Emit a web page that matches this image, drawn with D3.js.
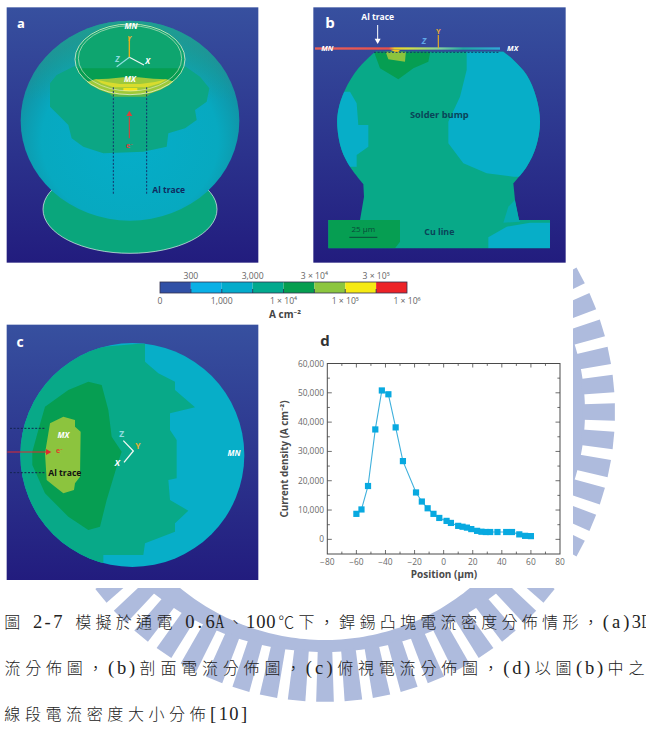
<!DOCTYPE html>
<html>
<head>
<meta charset="utf-8">
<script src="https://cdn.jsdelivr.net/npm/d3@7"></script>
<style>
html,body{margin:0;padding:0;background:#fff;overflow:hidden}
svg{display:block}
text{font-family:"Open Sans","Noto Sans",sans-serif}
</style>
</head>
<body>
<svg id="fig" width="646" height="729"></svg>
<script>
// Current density along the position line, panel d
const positions = [-60,-56.5,-52,-47,-42.5,-38,-33,-28,-19,-15,-11,-7,-3,2,5,10,13,16,19,23,26,29,32,37,43,47,52,56,60];
const densities = [8700,10200,18200,37500,50800,49500,38200,26700,16000,12900,10600,8700,7300,6300,5600,4600,4300,4000,3500,2900,2600,2500,2500,2500,2500,2500,1700,1200,1100];

// Colour key
const keyColors = ["#3050a6","#0ab0e6","#04abcb","#02a98e","#069e50","#8cc63f","#f6ea14","#ec2227"];
const keyLabelsLower = ["0","1,000","1 × 10⁴","1 × 10⁵","1 × 10⁶"];
const keyLabelsUpper = ["300","3,000","3 × 10⁴","3 × 10⁵"];

// Caption, one array per printed line
const captionLine1 = "圖 2-7 模擬於通電 0.6A、100℃下，銲錫凸塊電流密度分佈情形，(a)3D";
const captionLine2 = "流分佈圖，(b)剖面電流分佈圖，(c)俯視電流分佈圖，(d)以圖(b)中之";
const captionLine3 = "線段電流密度大小分佈[10]";

const CYAN="#07aec8", TEAL="#08a988", GREEN="#069e52", LIME="#8cc43e", YELLOW="#f4e61a";

const svg = d3.select("#fig");
const defs = svg.append("defs");

const bg = defs.append("linearGradient").attr("id","panelBg").attr("x1",0).attr("y1",0).attr("x2",0).attr("y2",1);
bg.append("stop").attr("offset",0).attr("stop-color","#37509f");
bg.append("stop").attr("offset",1).attr("stop-color","#221c7e");

// Watermark: a toothed ring, seen only in the page margins around the figures
const wmClip = defs.append("clipPath").attr("id","wmClip");
wmClip.append("rect").attr("x",573).attr("y",266).attr("width",73).attr("height",322);
wmClip.append("rect").attr("x",0).attr("y",588).attr("width",646).attr("height",141);
const wm = svg.append("g").attr("clip-path","url(#wmClip)").append("g").attr("transform","translate(325,412)");
const wmColor = "#aebbdd";
const toothStep = Math.PI/32, toothHalf = toothStep*0.31;
const ringOuter = a => 240 + 20*Math.cos(a)*Math.cos(a);
wm.append("path").attr("fill",wmColor).attr("fill-rule","evenodd").attr("d",() => {
  const angles = d3.range(0,Math.PI*2+0.01,0.02);
  const outer = angles.map(a => [ringOuter(a)*Math.cos(a), ringOuter(a)*Math.sin(a)]);
  const inner = angles.map(a => [228*Math.cos(a), 228*Math.sin(a)]);
  const ln = d3.line();
  return ln(outer)+"Z"+ln(inner)+"Z";
});
wm.selectAll("path.tooth").data(d3.range(0,64)).join("path").attr("class","tooth").attr("fill",wmColor)
  .attr("d", k => {
    const a = k*toothStep, r0 = ringOuter(a)-2, r1 = 290;
    const p = (r,t) => [r*Math.cos(t), r*Math.sin(t)];
    return d3.line()([p(r0,a-toothHalf),p(r1,a-toothHalf),p(r1,a+toothHalf),p(r0,a+toothHalf)])+"Z";
  });

// Each illustrated panel is described in a local grid, three units to a pixel
function panelScales(ox, oy){
  const x = d3.scaleLinear().domain([0,300]).range([ox,ox+100]);
  const y = d3.scaleLinear().domain([0,300]).range([oy,oy+100]);
  return {x, y, line: d3.line().x(d=>x(d[0])).y(d=>y(d[1]))};
}
function region(g, s, pts, fill){
  return g.append("path").attr("d", s.line.curve(d3.curveLinear)(pts)+"Z").attr("fill",fill);
}
function label(g, s, px, py, str, o={}){
  return g.append("text").attr("x",s.x(px)).attr("y",s.y(py)).text(str)
    .attr("fill",o.fill||"#fff").attr("font-size",o.size||9).attr("font-weight",o.weight||700)
    .attr("font-style",o.style||"normal").attr("text-anchor",o.anchor||"middle");
}
function stroke(g, s, pts, color, w, dash){
  return g.append("path").attr("d",s.line.curve(d3.curveLinear)(pts)).attr("fill","none")
    .attr("stroke",color).attr("stroke-width",w).attr("stroke-dasharray",dash||null);
}
function arrowHead(g, s, tip, dx, dy, color){
  const n=[-dy,dx];
  region(g,s,[tip,[tip[0]-dx*16+n[0]*9,tip[1]-dy*16+n[1]*9],[tip[0]-dx*16-n[0]*9,tip[1]-dy*16-n[1]*9]],color);
}

/* ---------- panel a: bump in perspective ---------- */
{
  const s = panelScales(0,0), g = svg.append("g");
  g.append("rect").attr("x",s.x(20)).attr("y",s.y(22)).attr("width",s.x(775)-s.x(20)).attr("height",s.y(788)-s.y(22)).attr("fill","url(#panelBg)");
  g.append("ellipse").attr("cx",s.x(390)).attr("cy",s.y(628)).attr("rx",87).attr("ry",44).attr("fill","#0aa67c").attr("stroke","#dff0e8").attr("stroke-width",.7);

  const sph = defs.append("radialGradient").attr("id","sphereShade").attr("cx",.5).attr("cy",.6).attr("r",.56);
  sph.append("stop").attr("offset",0).attr("stop-color","#05adc9");
  sph.append("stop").attr("offset",.72).attr("stop-color","#07a9c0");
  sph.append("stop").attr("offset",.92).attr("stop-color","#1096a8");
  sph.append("stop").attr("offset",1).attr("stop-color","#1a8aa0");
  defs.append("clipPath").attr("id","sphereClip").append("ellipse").attr("cx",s.x(390)).attr("cy",s.y(362)).attr("rx",s.x(328)).attr("ry",s.y(300));
  defs.append("clipPath").attr("id","padClip").append("ellipse").attr("cx",s.x(390)).attr("cy",s.y(178)).attr("rx",s.x(165)).attr("ry",s.y(110));
  const top = defs.append("linearGradient").attr("id","sphereTop").attr("x1",0).attr("y1",0).attr("x2",0).attr("y2",1);
  top.append("stop").attr("offset",0).attr("stop-color","#1fa08f").attr("stop-opacity",.95);
  top.append("stop").attr("offset",1).attr("stop-color","#1fa08f").attr("stop-opacity",0);

  g.append("ellipse").attr("cx",s.x(390)).attr("cy",s.y(362)).attr("rx",s.x(328)).attr("ry",s.y(300)).attr("fill","url(#sphereShade)");
  const inner = g.append("g").attr("clip-path","url(#sphereClip)");
  inner.append("rect").attr("x",0).attr("y",s.y(55)).attr("width",260).attr("height",s.y(300)-s.y(55)).attr("fill","url(#sphereTop)");
  region(inner,s,[[150,250],[170,225],[230,195],[550,195],[600,230],[628,265],[620,305],[585,330],[590,360],[555,385],[505,400],[500,440],[430,455],[310,460],[250,440],[215,415],[205,375],[170,340],[150,320]],"#0ca684");

  // Al pad on the top of the sphere
  const pad = g.append("g").attr("clip-path","url(#padClip)");
  pad.append("ellipse").attr("cx",s.x(390)).attr("cy",s.y(178)).attr("rx",s.x(165)).attr("ry",s.y(110)).attr("fill","#0ea56f");
  region(pad,s,[[220,205],[560,205],[560,300],[220,300]],GREEN);
  region(pad,s,[[285,238],[325,236],[370,232],[415,232],[460,236],[500,238],[530,248],[560,300],[220,300],[255,248]],"#9ec93a");
  region(pad,s,[[285,238],[320,246],[360,252],[420,252],[465,246],[500,238],[480,250],[440,262],[340,262],[305,250]],"#d8dc2e");
  region(pad,s,[[370,264],[412,264],[412,273],[370,273]],YELLOW);
  // sphere shoulder just under the pad stays lime only over a short arc
  region(g,s,[[330,283],[450,283],[440,290],[340,290]],"#5fb848");

  g.append("ellipse").attr("cx",s.x(390)).attr("cy",s.y(178)).attr("rx",s.x(165)).attr("ry",s.y(106)).attr("fill","none").attr("stroke","#e6efd0").attr("stroke-width",.8);
  g.append("ellipse").attr("cx",s.x(390)).attr("cy",s.y(175)).attr("rx",s.x(155)).attr("ry",s.y(98)).attr("fill","none").attr("stroke","#e6efd0").attr("stroke-width",.6);

  stroke(g,s,[[340,262],[340,582]],"#14306c",1,"2 1.6");
  stroke(g,s,[[440,262],[440,582]],"#14306c",1,"2 1.6");
  stroke(g,s,[[388,415],[388,350]],"#d8403c",1.1);
  arrowHead(g,s,[388,332],0,-1,"#d8403c");
  label(g,s,388,443,"e⁻",{fill:"#d8403c",size:7});
  stroke(g,s,[[388,112],[388,172]],"#e0b020",1.4);
  stroke(g,s,[[388,172],[432,195]],"#f2f6f2",1.2);
  stroke(g,s,[[388,172],[350,200]],"#8fe0e0",1.2);
  label(g,s,388,124,"Y",{fill:"#e8b030",size:7,style:"italic"});
  label(g,s,443,193,"X",{size:8,style:"italic"});
  label(g,s,352,187,"Z",{fill:"#90dce0",size:8,style:"italic"});
  label(g,s,393,87,"MN",{size:8,style:"italic"});
  label(g,s,390,247,"MX",{size:8,style:"italic"});
  label(g,s,457,578,"Al trace",{fill:"#10295e",size:8.5,anchor:"start"});
  label(g,s,63,85,"a",{size:13});
}

/* ---------- panel b: cross-section ---------- */
{
  const s = panelScales(300,0), g = svg.append("g");
  g.append("rect").attr("x",s.x(40)).attr("y",s.y(22)).attr("width",s.x(797)-s.x(40)).attr("height",s.y(788)-s.y(22)).attr("fill","url(#panelBg)");

  // the ball is a smooth arc from the neck up and around, the foot and Cu line are straight
  const ballArc = [[640,550],[680,500],[708,440],[720,365],[708,290],[680,225],[640,180],[610,155],[225,155],[175,205],[135,270],[115,330],[112,380],[125,450],[150,500],[190,552]];
  const rightSide = ballArc.slice(0,8), leftSide = ballArc.slice(8);
  const footPts = [[192,590],[180,660],[85,660],[85,745],[750,745],[750,660],[657,660],[645,600]];
  const smooth = s.line.curve(d3.curveCatmullRom);
  const toL = pts => pts.map(p => "L"+s.x(p[0])+","+s.y(p[1])).join("");
  const bumpPath = smooth(rightSide) + "L" + smooth(leftSide).slice(1) + toL(footPts) + "Z";
  defs.append("clipPath").attr("id","bumpClip").append("path").attr("d",bumpPath);
  g.append("path").attr("d",bumpPath).attr("fill",TEAL);
  const inner = g.append("g").attr("clip-path","url(#bumpClip)");
  region(inner,s,[[500,150],[500,210],[480,290],[445,365],[445,430],[490,490],[560,520],[640,530],[770,530],[770,150]],CYAN);
  region(inner,s,[[100,275],[150,275],[170,310],[175,375],[205,375],[205,440],[170,465],[170,500],[100,500]],CYAN);
  region(inner,s,[[220,150],[392,150],[385,185],[340,205],[295,238],[240,205]],GREEN);
  region(inner,s,[[255,150],[318,150],[315,185],[265,178]],LIME);
  region(inner,s,[[85,660],[300,660],[300,725],[285,745],[85,745]],GREEN);
  region(inner,s,[[770,668],[690,668],[620,680],[565,712],[565,745],[770,745]],CYAN);
  region(inner,s,[[625,620],[645,600],[660,665],[610,668]],"#06abb0");

  const beam = defs.append("linearGradient").attr("id","beam").attr("gradientUnits","userSpaceOnUse")
    .attr("x1",s.x(45)).attr("x2",s.x(600)).attr("y1",0).attr("y2",0);
  [[0,"#e8605a"],[.4,"#e8504a"],[.43,"#f4d020"],[.5,"#d8e040"],[.68,"#7fd0a0"],[.8,"#20a8a0"],[1,"#30a8d8"]]
    .forEach(d => beam.append("stop").attr("offset",d[0]).attr("stop-color",d[1]));
  g.append("rect").attr("x",s.x(45)).attr("y",s.y(142)).attr("width",s.x(600)-s.x(45)).attr("height",s.y(149)-s.y(142)).attr("fill","url(#beam)");
  region(g,s,[[272,150],[300,150],[292,158]],"#f2c020");

  stroke(g,s,[[222,157],[600,157]],"#123a6c",1,"2 1.6");
  stroke(g,s,[[415,105],[415,145]],"#e0a828",1.2);
  stroke(g,s,[[233,75],[233,118]],"#fff",1);
  arrowHead(g,s,[233,132],0,1,"#fff");
  label(g,s,233,61,"Al trace",{size:8.5});
  label(g,s,415,101,"Y",{fill:"#e8a838",size:7.5});
  label(g,s,372,131,"Z",{fill:"#60a8e8",size:8.5,style:"italic"});
  label(g,s,82,152,"MN",{size:7.5,style:"italic"});
  label(g,s,638,152,"MX",{size:7.5,style:"italic"});
  label(g,s,90,85,"b",{size:15});
  label(g,s,418,354,"Solder bump",{fill:"#0a4458",size:9.3});
  label(g,s,190,697,"25 µm",{fill:"#0a4a3a",size:8,weight:400});
  stroke(g,s,[[148,712],[232,712]],"#0a4a3a",1);
  label(g,s,418,705,"Cu line",{fill:"#0a4458",size:8.8});
}

/* ---------- colour key ---------- */
{
  const g = svg.append("g");
  const band = d3.scaleBand().domain(d3.range(keyColors.length)).range([160,407]).paddingInner(0).paddingOuter(0);
  g.selectAll("rect").data(keyColors).join("rect")
    .attr("x",(d,i)=>band(i)).attr("y",282).attr("width",band.bandwidth()).attr("height",11).attr("fill",d=>d);
  g.append("rect").attr("x",160).attr("y",282).attr("width",247).attr("height",11).attr("fill","none").attr("stroke","#33314e").attr("stroke-width",.8);
  g.selectAll("line").data(d3.range(1,8)).join("line")
    .attr("x1",i=>band(i)).attr("x2",i=>band(i)).attr("y1",289).attr("y2",293).attr("stroke","#1e2a50").attr("stroke-width",.8);
  g.selectAll("text.low").data(keyLabelsLower).join("text").attr("class","low")
    .attr("x",(d,i)=>band(0)+i*2*band.bandwidth()).attr("y",303.5).attr("text-anchor","middle").attr("font-size",8.6).attr("fill","#666").text(d=>d);
  g.selectAll("text.up").data(keyLabelsUpper).join("text").attr("class","up")
    .attr("x",(d,i)=>band(1)+i*2*band.bandwidth()).attr("y",279).attr("text-anchor","middle").attr("font-size",8.6).attr("fill","#666").text(d=>d);
  g.append("text").attr("x",285).attr("y",318).attr("text-anchor","middle").attr("font-size",10).attr("font-weight",700).attr("fill","#444").text("A cm⁻²");
}

/* ---------- panel c: view from above ---------- */
{
  const s = panelScales(0,320), g = svg.append("g");
  g.append("rect").attr("x",s.x(20)).attr("y",s.y(14)).attr("width",s.x(775)-s.x(20)).attr("height",s.y(780)-s.y(14)).attr("fill","url(#panelBg)");
  defs.append("clipPath").attr("id","discClip").append("circle").attr("cx",s.x(397)).attr("cy",s.y(405)).attr("r",112);
  g.append("circle").attr("cx",s.x(397)).attr("cy",s.y(405)).attr("r",112).attr("fill",CYAN);
  const inner = g.append("g").attr("clip-path","url(#discClip)");
  region(inner,s,[[310,50],[310,80],[435,70],[435,125],[475,160],[525,185],[525,210],[585,262],[510,280],[510,330],[530,360],[530,475],[505,480],[510,540],[565,572],[525,610],[525,635],[435,670],[430,705],[310,705],[310,760],[40,760],[40,50]],TEAL);
  region(inner,s,[[265,185],[305,195],[325,270],[335,350],[365,395],[350,440],[320,540],[300,620],[265,630],[205,590],[135,520],[97,435],[97,395],[115,330],[135,260],[205,210]],GREEN);
  region(inner,s,[[190,290],[225,300],[225,320],[242,335],[240,470],[225,490],[222,510],[190,520],[165,500],[140,480],[135,400],[150,310]],LIME);

  stroke(g,s,[[30,325],[135,325]],"#13244f",1,"2 1.6");
  stroke(g,s,[[30,458],[135,458]],"#13244f",1,"2 1.6");
  stroke(g,s,[[22,396],[140,396]],"#e02a30",1.1);
  arrowHead(g,s,[154,396],1,0,"#e02a30");
  label(g,s,178,399,"e⁻",{fill:"#e0402a",size:7});
  stroke(g,s,[[370,362],[400,393],[372,427]],"#f4f8f4",1.3);
  label(g,s,365,350,"Z",{fill:"#90dce0",size:8.5});
  label(g,s,352,438,"X",{size:8.5,style:"italic"});
  label(g,s,414,386,"Y",{fill:"#e8b030",size:8.5});
  label(g,s,190,355,"MX",{size:8,style:"italic"});
  label(g,s,702,409,"MN",{size:8,style:"italic"});
  label(g,s,145,467,"Al trace",{fill:"#111",size:8.6,anchor:"start"});
  label(g,s,60,80,"c",{size:14});
}

/* ---------- panel d: current density profile ---------- */
{
  const g = svg.append("g");
  const x = d3.scaleLinear().domain([-80,80]).range([327.3,560]);
  const y = d3.scaleLinear().domain([-5000,60000]).range([554,363.5]);
  const ink = "#4a4a4a", tickText = "#6a6a6a";

  const xMinor = d3.range(-80,81,10), yMinor = d3.range(-5000,60001,5000);
  const isMajorX = v => v%20===0, isMajorY = v => v%10000===0;
  g.selectAll("line.xb").data(xMinor.slice(1,-1)).join("line").attr("class","xb")
    .attr("x1",x).attr("x2",x).attr("y1",554).attr("y2",d=>554-(isMajorX(d)?4:2.4));
  g.selectAll("line.xt").data(xMinor.slice(1,-1)).join("line").attr("class","xt")
    .attr("x1",x).attr("x2",x).attr("y1",363.5).attr("y2",d=>363.5+(isMajorX(d)?4:2.4));
  g.selectAll("line.yl").data(yMinor.slice(1,-1)).join("line").attr("class","yl")
    .attr("y1",y).attr("y2",y).attr("x1",327.3).attr("x2",d=>327.3+(isMajorY(d)?4.5:2.6));
  g.selectAll("line.yr").data(yMinor.slice(1,-1)).join("line").attr("class","yr")
    .attr("y1",y).attr("y2",y).attr("x1",560).attr("x2",d=>560-(isMajorY(d)?4.5:2.6));
  g.selectAll("line").attr("stroke",ink).attr("stroke-width",.8);
  g.append("rect").attr("x",327.3).attr("y",363.5).attr("width",232.7).attr("height",190.5).attr("fill","none").attr("stroke",ink).attr("stroke-width",1);

  g.selectAll("text.xl").data(d3.range(-80,81,20)).join("text").attr("class","xl")
    .attr("x",x).attr("y",564.5).attr("text-anchor","middle").attr("font-size",8.4).attr("fill",tickText)
    .text(d=>d<0?"−"+(-d):d);
  g.selectAll("text.yl").data(d3.range(0,60001,10000)).join("text").attr("class","yl")
    .attr("x",324).attr("y",d=>y(d)+3).attr("text-anchor","end").attr("font-size",8.4).attr("fill",tickText)
    .text(d3.format(","));
  g.append("text").attr("x",444).attr("y",578).attr("text-anchor","middle").attr("font-size",10).attr("font-weight",700).attr("fill","#4a4a4a").text("Position (µm)");
  g.append("text").attr("transform","translate(288,459) rotate(-90)").attr("text-anchor","middle").attr("font-size",9.8).attr("font-weight",700).attr("fill","#4a4a4a").text("Current density (A cm⁻²)");
  g.append("text").attr("x",325).attr("y",346).attr("text-anchor","middle").attr("font-size",15).attr("font-weight",700).attr("fill","#333").text("d");

  const pts = positions.map((p,i)=>[p,densities[i]]);
  g.append("path").attr("d",d3.line().x(d=>x(d[0])).y(d=>y(d[1]))(pts)).attr("fill","none").attr("stroke","#3fb0dc").attr("stroke-width",1.1);
  g.selectAll("rect.pt").data(pts).join("rect").attr("class","pt")
    .attr("x",d=>x(d[0])-3.1).attr("y",d=>y(d[1])-3.1).attr("width",6.2).attr("height",6.2).attr("fill","#08a9e0");
}

/* ---------- caption: full-width and half-width character cells ---------- */
function captionLine(str, baseline, cell){
  let cursor = 2;
  const g = svg.append("g");
  for (const ch of str){
    const half = ch.charCodeAt(0) < 128;
    // wide capitals are condensed so that they stay inside a half-width cell
    const wide = ch==="A" || ch==="D";
    if (ch !== " "){
      const cx = cursor + (half?cell/4:cell/2) - (wide?0.5:0);
      g.append("text").attr("transform",`translate(${cx},${baseline}) scale(${wide?0.68:1},1)`).attr("text-anchor","middle")
        .attr("font-size",half?18.5:16).attr("fill","#222")
        .style("font-family",half?'"Liberation Serif",serif':'"Noto Sans CJK TC",sans-serif')
        .style("font-weight",half?400:300).text(ch);
    }
    cursor += half ? cell/2 : cell;
  }
}
captionLine(captionLine1,628,20.3);
captionLine(captionLine2,674,20.8);
captionLine(captionLine3,720,20.6);
</script>
</body>
</html>
